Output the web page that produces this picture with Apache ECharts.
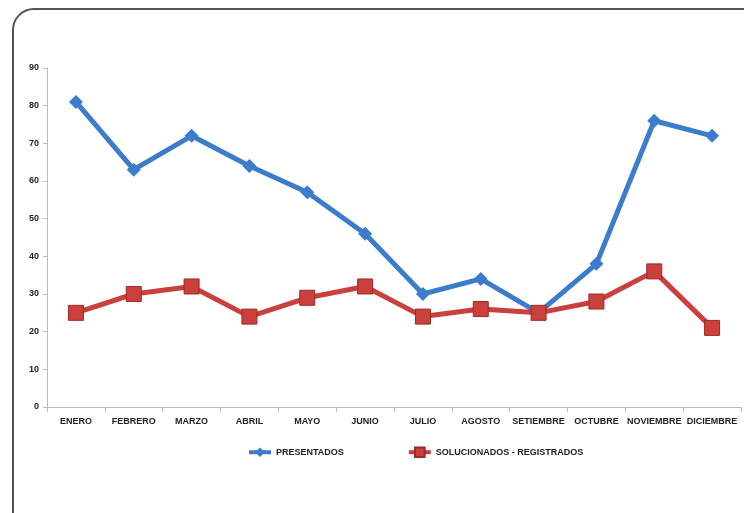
<!DOCTYPE html>
<html><head><meta charset="utf-8">
<script src="https://cdn.jsdelivr.net/npm/echarts@6/dist/echarts.min.js"></script>
<style>
html,body{margin:0;padding:0;background:#fff;overflow:hidden;}
#frame{position:absolute;left:12px;top:8px;width:760px;height:540px;border:2px solid #555;border-radius:22px;box-sizing:border-box;}
#c{position:absolute;left:0;top:0;width:744px;height:513px;}
</style></head>
<body>
<div id="frame"></div>
<div id="c"></div>
<script>
var categories = ['ENERO','FEBRERO','MARZO','ABRIL','MAYO','JUNIO','JULIO','AGOSTO','SETIEMBRE','OCTUBRE','NOVIEMBRE','DICIEMBRE'];
var presentados = [81,63,72,64,57,46,30,34,25,38,76,72];
var solucionados = [25,30,32,24,29,32,24,26,25,28,36,21];
var seriesNames = ['PRESENTADOS','SOLUCIONADOS - REGISTRADOS'];
var font = "'Liberation Sans',Arial,sans-serif";
var chart = echarts.init(document.getElementById('c'));
chart.setOption({
  animation:false,
  grid:{left:47,right:3,top:68,bottom:106},
  legend:{
    bottom:50,left:242,itemGap:63,itemWidth:22,itemHeight:12,
    lineStyle:{width:4},
    textStyle:{fontFamily:font,fontWeight:'bold',fontSize:9,color:'#222'},
    data:seriesNames
  },
  xAxis:{
    type:'category',data:categories,boundaryGap:true,
    axisLine:{lineStyle:{color:'#bbb'}},
    axisTick:{show:true,alignWithLabel:false,length:5,lineStyle:{color:'#bbb'}},
    axisLabel:{fontFamily:font,fontWeight:'bold',fontSize:9,color:'#222',margin:10,interval:0}
  },
  yAxis:{
    type:'value',min:0,max:90,interval:10,
    axisLine:{show:true,lineStyle:{color:'#bbb'}},
    axisTick:{show:true,length:4,lineStyle:{color:'#bbb'}},
    splitLine:{show:false},
    axisLabel:{fontFamily:font,fontWeight:'bold',fontSize:9,color:'#222',margin:8}
  },
  series:[
    {name:seriesNames[0],type:'line',data:presentados,symbol:'diamond',symbolSize:14,
     lineStyle:{color:'#3b7ccc',width:5},itemStyle:{color:'#3b7ccc'}},
    {name:seriesNames[1],type:'line',data:solucionados,symbol:'rect',symbolSize:15,
     lineStyle:{color:'#c9403d',width:5},itemStyle:{color:'#c9403d',borderColor:'#9e2a27',borderWidth:1}}
  ]
});
</script>
</body></html>
